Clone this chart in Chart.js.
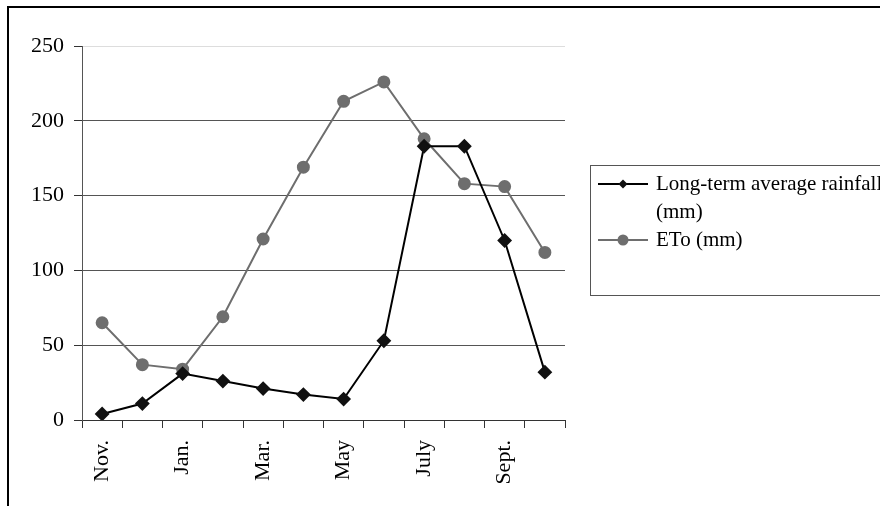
<!DOCTYPE html>
<html>
<head>
<meta charset="utf-8">
<script src="https://cdn.jsdelivr.net/npm/chart.js@4"></script>
<style>
html,body{margin:0;padding:0;background:#fff;}
#wrap{width:880px;height:506px;position:relative;}
</style>
</head>
<body>
<div id="wrap"><canvas id="chartRainHTML" width="880" height="506"></canvas></div>
<script>
// months along the x axis (only every second one is printed)
const months = ['Nov.','Dec.','Jan.','Feb.','Mar.','Apr.','May','June','July','Aug.','Sept.','Oct.'];
// mm per month
const rainfall = [4, 11, 31, 26, 21, 17, 14, 53, 183, 183, 120, 32];
const eto = [65, 37, 34, 69, 121, 169, 213, 226, 188, 158, 156, 112];
const yTicks = [0, 50, 100, 150, 200, 250];
const seriesNames = [['Long-term average rainfall', '(mm)'], ['ETo (mm)']];

const serif = 'Liberation Serif, Times New Roman, serif';

// frame around the picture
const framePlugin = {
  id: 'frame',
  beforeDraw(chart){
    const ctx = chart.ctx;
    ctx.save();
    ctx.fillStyle = '#000';
    ctx.fillRect(8, 6, 872, 2);
    ctx.fillRect(7, 6, 2, 500);
    ctx.restore();
  }
};

// boxed legend to the right, text wraps on two lines
const boxLegend = {
  id: 'boxLegend',
  afterDraw(chart){
    const ctx = chart.ctx;
    ctx.save();
    ctx.strokeStyle = '#555';
    ctx.lineWidth = 1;
    ctx.strokeRect(590.5, 165.5, 300, 130);
    let y = 184;
    chart.data.datasets.forEach((ds, i) => {
      ctx.strokeStyle = ds.borderColor;
      ctx.lineWidth = 2;
      ctx.beginPath();
      ctx.moveTo(598, y);
      ctx.lineTo(648, y);
      ctx.stroke();
      ctx.fillStyle = ds.pointBackgroundColor;
      Chart.helpers.drawPoint(ctx, {pointStyle: ds.pointStyle, radius: i == 0 ? 4.5 : 5.5, rotation: 0, borderWidth: 0}, 623, y);
      ctx.fillStyle = '#000';
      ctx.font = '21px ' + serif;
      ctx.textBaseline = 'middle';
      seriesNames[i].forEach(line => {
        ctx.fillText(line, 656, y);
        y += 28;
      });
    });
    ctx.restore();
  }
};

const chartRain = new Chart(
  document.getElementById('chartRainHTML'),
  {
    type: 'line',
    data: {
      labels: months,
      datasets: [
        {
          label: seriesNames[0].join(' '),
          data: rainfall,
          borderColor: '#000',
          backgroundColor: '#000',
          pointBackgroundColor: '#111',
          pointBorderColor: '#111',
          pointStyle: 'rectRot',
          pointRadius: 6,
          borderWidth: 2,
          tension: 0
        },
        {
          label: seriesNames[1][0],
          data: eto,
          borderColor: '#6e6e6e',
          backgroundColor: '#6e6e6e',
          pointBackgroundColor: '#6e6e6e',
          pointBorderColor: '#6e6e6e',
          pointStyle: 'circle',
          pointRadius: 5.5,
          borderWidth: 2,
          tension: 0
        }
      ]
    },
    options: {
      animation: false,
      responsive: false,
      layout: {padding: {left: 0, top: 46, right: 315, bottom: 0}},
      plugins: {
        legend: {display: false},
        tooltip: {enabled: false}
      },
      scales: {
        x: {
          offset: true,
          afterFit: s => { s.height = 86; },
          border: {color: '#333', width: 1},
          grid: {offset: true, drawOnChartArea: false, drawTicks: true, tickLength: 8, color: '#333'},
          ticks: {
            autoSkip: false,
            minRotation: 90,
            maxRotation: 90,
            padding: 12,
            color: '#000',
            font: {family: serif, size: 22},
            callback: (v, i) => i % 2 == 0 ? months[i] : ''
          }
        },
        y: {
          min: 0,
          max: 250,
          afterFit: s => { s.width = 82; },
          afterBuildTicks: s => { s.ticks = yTicks.map(v => ({value: v})); },
          border: {color: '#555', width: 1},
          grid: {
            color: c => c.tick && c.tick.value == 250 ? '#dddddd' : '#555',
            tickColor: '#333',
            tickLength: 8
          },
          ticks: {
            padding: 10,
            color: '#000',
            font: {family: serif, size: 22}
          }
        }
      }
    },
    plugins: [framePlugin, boxLegend]
  }
);
</script>
</body>
</html>
